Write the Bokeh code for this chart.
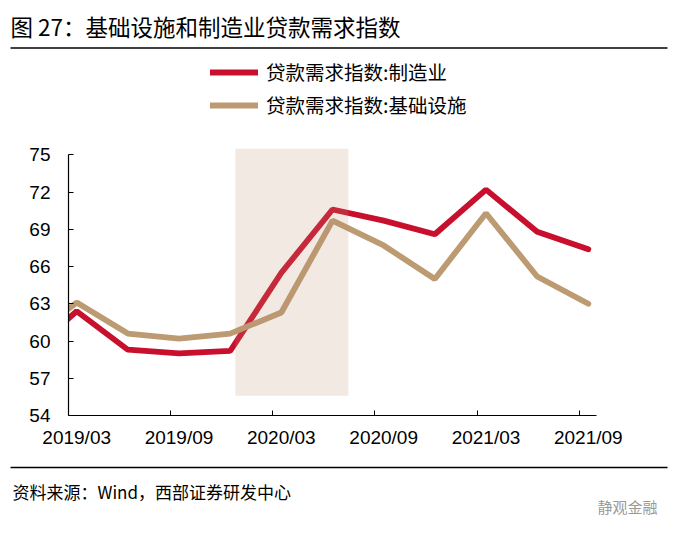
from bokeh.plotting import figure
from bokeh.models import (Range1d, FixedTicker, Legend, LegendItem,
                          Label, BoxAnnotation)
from bokeh.embed import file_html
from bokeh.resources import INLINE

# ---- data ----
quarters = ["2018/12", "2019/03", "2019/06", "2019/09", "2019/12", "2020/03",
            "2020/06", "2020/09", "2020/12", "2021/03", "2021/06", "2021/09"]
quarter_x = [-1, 0, 1, 2, 3, 4, 5, 6, 7, 8, 9, 10]
manufacturing = [58.8, 62.4, 59.3, 59.0, 59.2, 65.5, 70.6, 69.7, 68.6, 72.2, 68.8, 67.4]
infrastructure = [60.0, 63.1, 60.6, 60.2, 60.6, 62.3, 69.7, 67.7, 65.0, 70.3, 65.2, 63.0]

tick_labels = ["2019/03", "2019/09", "2020/03", "2020/09", "2021/03", "2021/09"]
label_x = [0, 2, 4, 6, 8, 10]
tick_x = [-0.17, 1.83, 3.83, 5.83, 7.83, 9.83]
y_ticks = [54, 57, 60, 63, 66, 69, 72, 75]

shade_left, shade_right = [3.1], [5.31]
shade_bottom, shade_top = [55.6], [75.5]

title_text = "图 27：基础设施和制造业贷款需求指数"
source_text = "资料来源：Wind，西部证券研发中心"
series_names = ["贷款需求指数:制造业", "贷款需求指数:基础设施"]

RED = "#C8102E"
TAN = "#BC9A72"
CJK = "Noto Sans CJK SC"
LAT = "Liberation Sans"
W = 677


def blank(height, y0, y1):
    f = figure(width=W, height=height, x_range=Range1d(0, W), y_range=Range1d(y1, y0),
               output_backend="svg", toolbar_location=None,
               x_axis_location=None, y_axis_location=None,
               min_border=0, min_border_left=0, min_border_right=0,
               min_border_top=0, min_border_bottom=0)
    f.grid.visible = False
    f.outline_line_color = None
    return f


# ---- title ----
pt = blank(50, 0, 50)
pt.add_layout(Label(x=10, y=25, text=title_text, text_font=CJK,
                    text_font_size="22.5px", text_font_style="normal",
                    text_baseline="middle", text_color="black"))
pt.add_layout(BoxAnnotation(left=10, right=667, top=46.8, bottom=48.3,
                            fill_color="black", fill_alpha=1, line_color=None))

# ---- main chart ----
p = figure(width=W, height=405,
           x_range=Range1d(-0.16, 10.16), y_range=Range1d(54, 83.41),
           output_backend="svg", toolbar_location=None,
           min_border_left=68, min_border_right=81,
           min_border_top=0, min_border_bottom=40)
p.grid.visible = False
p.outline_line_color = None

xa = p.xaxis[0]
xa.ticker = FixedTicker(ticks=label_x, minor_ticks=tick_x)
xa.major_label_overrides = {k: v for k, v in zip(label_x, tick_labels)}
xa.major_tick_line_color = None
xa.minor_tick_in = 5
xa.minor_tick_out = 0
xa.minor_tick_line_color = "black"
xa.axis_line_color = "black"
xa.axis_line_width = 1.2
xa.major_label_standoff = 5
xa.major_label_text_font = LAT
xa.major_label_text_font_size = "19px"
xa.major_label_text_color = "black"

ya = p.yaxis[0]
ya.ticker = FixedTicker(ticks=y_ticks)
ya.bounds = (54, 75)
ya.major_tick_in = 5
ya.major_tick_out = 0
ya.minor_tick_line_color = None
ya.axis_line_color = "black"
ya.axis_line_width = 1.2
ya.major_label_standoff = 18
ya.major_label_text_font = LAT
ya.major_label_text_font_size = "19px"
ya.major_label_text_color = "black"

r1 = p.line(quarter_x, manufacturing, line_color=RED, line_width=5.8, line_cap="round")
r2 = p.line(quarter_x, infrastructure, line_color=TAN, line_width=5.8, line_cap="round")

p.quad(left=shade_left, right=shade_right, bottom=shade_bottom, top=shade_top,
       fill_color="#B89070", fill_alpha=0.2, line_color=None)

legend = Legend(items=[LegendItem(label=series_names[0], renderers=[r1]),
                       LegendItem(label=series_names[1], renderers=[r2])],
                location=(142, 296), glyph_width=48, glyph_height=28,
                label_height=28, spacing=4, padding=0, margin=0,
                border_line_color=None, background_fill_alpha=0,
                label_text_font=CJK, label_text_font_size="19.5px",
                label_standoff=8, label_text_color="black")
p.add_layout(legend, "center")

# ---- footer ----
pf = blank(80, 455, 535)
pf.add_layout(BoxAnnotation(left=10, right=667, top=466.3, bottom=467.8,
                            fill_color="black", fill_alpha=1, line_color=None))
pf.add_layout(Label(x=12, y=491, text=source_text, text_font=CJK,
                    text_font_size="17px", text_baseline="middle",
                    text_color="black"))
pf.add_layout(Label(x=597, y=506, text="静观金融", text_font=CJK,
                    text_font_size="15px", text_baseline="middle",
                    text_color="#9a9a9a"))

open("out.html", "w").write(file_html([pt, p, pf], INLINE))
